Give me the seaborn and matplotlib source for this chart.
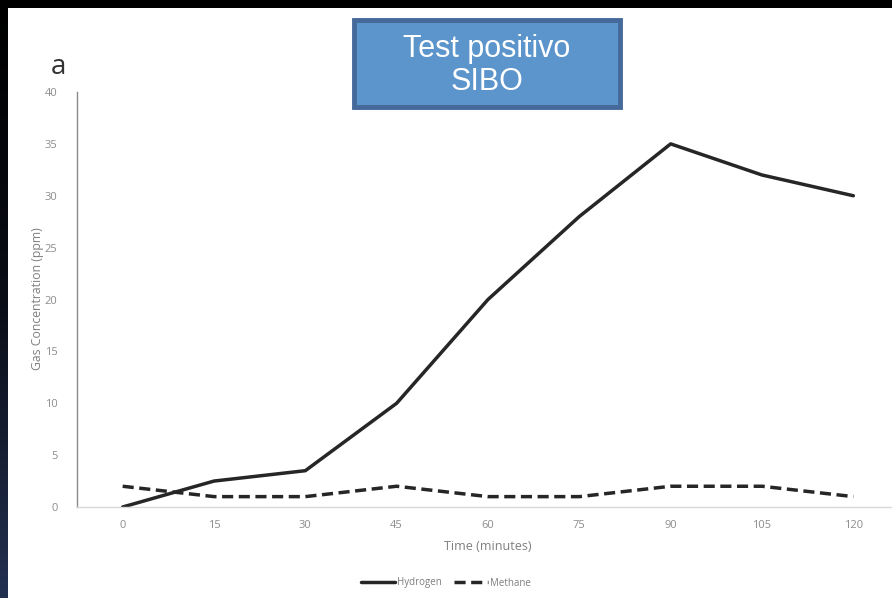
import numpy as np
import pandas as pd
import matplotlib
matplotlib.use("Agg")
import matplotlib.pyplot as plt
import seaborn as sns
from matplotlib.patches import Rectangle
from matplotlib.lines import Line2D

# ---- data ----
times = [0, 15, 30, 45, 60, 75, 90, 105, 120]
hydrogen = [0, 2.5, 3.5, 10, 20, 28, 35, 32, 30]
methane = [2, 1, 1, 2, 1, 1, 2, 2, 1]
yticks = [0, 5, 10, 15, 20, 25, 30, 35, 40]
series_names = ["Hydrogen", "Methane"]

df = pd.DataFrame({
    "time": times * 2,
    "value": hydrogen + methane,
    "gas": [series_names[0]] * len(times) + [series_names[1]] * len(times),
})

sns.set_style("white")
plt.rcParams["font.family"] = ["Open Sans", "DejaVu Sans"]

W, H = 892, 598
fig = plt.figure(figsize=(W / 100, H / 100), dpi=100)
fig.patch.set_facecolor("white")

def fx(px):
    return px / W

def fy(py):
    return 1 - py / H

ax = fig.add_axes([fx(77), fy(507), fx(899) - fx(77), fy(92) - fy(507)])
ax.set_facecolor("none")

line_col = "#262626"
sns.lineplot(data=df, x="time", y="value", style="gas",
             dashes={"Hydrogen": "", "Methane": (3.2, 1.6)},
             color=line_col, linewidth=2.5, legend=False, ax=ax)

ax.set_xlim(-7.5, 127.5)
ax.set_ylim(0, 40)
ax.set_xticks(times)
ax.set_xticklabels([str(t) for t in times])
ax.set_yticks(yticks)
ax.set_yticklabels([str(v) for v in yticks])
tick_col = "#8c8c8c"
ax.tick_params(axis="both", length=0, labelsize=8, colors=tick_col)
ax.tick_params(axis="x", pad=9)
ax.tick_params(axis="y", pad=14)
for s in ["top", "right"]:
    ax.spines[s].set_visible(False)
ax.spines["left"].set_color("#8a8a8a")
ax.spines["left"].set_linewidth(1.0)
ax.spines["bottom"].set_color("#d9d9d9")
ax.spines["bottom"].set_linewidth(1.0)
ax.set_xlabel("")
ax.set_ylabel("")

fig.text(fx(488), fy(546), "Time (minutes)", ha="center", va="center",
         fontsize=9, color="#7f7f7f")
fig.text(fx(38), fy(299), "Gas Concentration (ppm)", ha="center", va="center",
         rotation=90, fontsize=8.8, color="#7f7f7f")

# legend
handles = [Line2D([], [], color=line_col, lw=2.5, ls="-"),
           Line2D([], [], color=line_col, lw=2.5, ls=(0, (3.2, 1.6)))]
leg = fig.legend(handles, series_names, loc="center", bbox_to_anchor=(fx(446), fy(583)),
                 ncol=2, frameon=False, fontsize=7, handlelength=3.5,
                 handletextpad=0.15, columnspacing=1.3, labelcolor="#7f7f7f")

# panel letter
fig.text(fx(58), fy(67), "a", ha="center", va="center", fontsize=20,
         color="#333333")

# title box
box = Rectangle((fx(354), fy(107)), fx(620) - fx(354), fy(20) - fy(107),
                transform=fig.transFigure, facecolor="#5b95cb",
                edgecolor="#44699a", linewidth=3.5, zorder=5)
fig.add_artist(box)
fig.text(fx(487), fy(49), "Test positivo", ha="center", va="center",
         fontsize=22, color="white", family="Liberation Sans", zorder=6)
fig.text(fx(487), fy(82), "SIBO", ha="center", va="center",
         fontsize=22, color="white", family="Liberation Sans", zorder=6)

# dark frame: top strip and left gradient strip
top = Rectangle((0, fy(8)), 1, 1 - fy(8), transform=fig.transFigure,
                facecolor="black", edgecolor="none", zorder=10)
fig.add_artist(top)
gax = fig.add_axes([0, 0, fx(8), 1])
grad = np.linspace(0, 1, 256).reshape(-1, 1)
cmap = matplotlib.colors.LinearSegmentedColormap.from_list("g", ["#000000", "#0a0d16", "#233050"])
gax.imshow(grad, aspect="auto", cmap=cmap, extent=[0, 1, 1, 0])
gax.set_axis_off()

fig.savefig("out.png", dpi=100, facecolor="white")
